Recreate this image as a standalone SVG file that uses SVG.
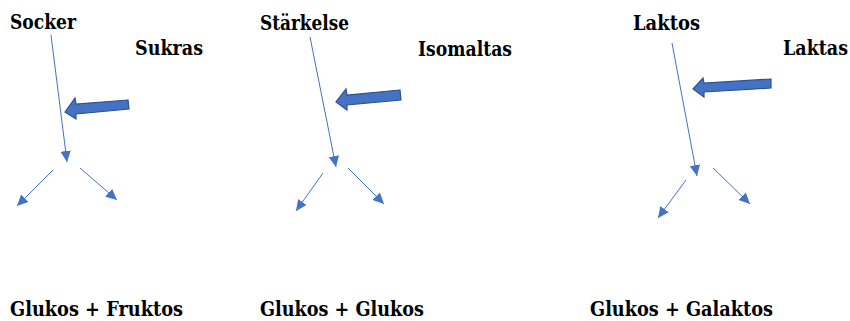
<svg xmlns="http://www.w3.org/2000/svg" width="850" height="321" viewBox="0 0 850 321">
<style>
.t{font-family:'DejaVu Serif Condensed','DejaVu Serif','Liberation Serif',serif;font-stretch:condensed;font-weight:700;font-size:20px;fill:#000}
.ln{stroke:#4472C4;stroke-width:1;fill:none;marker-end:url(#ah)}
.blk{fill:#4472C4;stroke:#2F528F;stroke-width:1.2;stroke-linejoin:miter}
</style>
<defs>
<marker id="ah" markerUnits="userSpaceOnUse" markerWidth="12" markerHeight="12" viewBox="0 0 12 12" refX="11" refY="6" orient="auto">
<path d="M0,0.8 L11,6 L0,11.2 Z" fill="#4472C4"/>
</marker>
</defs>
<rect width="850" height="321" fill="#fff"/>
<g id="panel-sukras">
<text class="t" x="10" y="29" textLength="66" lengthAdjust="spacingAndGlyphs">Socker</text>
<text class="t" x="135" y="55" textLength="68" lengthAdjust="spacingAndGlyphs">Sukras</text>
<text class="t" x="10" y="316" textLength="173" lengthAdjust="spacingAndGlyphs">Glukos + Fruktos</text>
</g>
<g id="panel-isomaltas">
<text class="t" x="260" y="30" textLength="89" lengthAdjust="spacingAndGlyphs">Stärkelse</text>
<text class="t" x="418" y="56" textLength="94" lengthAdjust="spacingAndGlyphs">Isomaltas</text>
<text class="t" x="260" y="316" textLength="164" lengthAdjust="spacingAndGlyphs">Glukos + Glukos</text>
</g>
<g id="panel-laktas">
<text class="t" x="633" y="30" textLength="67" lengthAdjust="spacingAndGlyphs">Laktos</text>
<text class="t" x="783" y="55" textLength="65" lengthAdjust="spacingAndGlyphs">Laktas</text>
<text class="t" x="590" y="316" textLength="183" lengthAdjust="spacingAndGlyphs">Glukos + Galaktos</text>
</g>
<g id="connectors">
<line class="ln" x1="51" y1="35" x2="67" y2="162"/>
<line class="ln" x1="53" y1="170" x2="17" y2="206"/>
<line class="ln" x1="80" y1="168" x2="117" y2="200"/>
<path class="blk" d="M128,100 L76,104 L75,98 L65,112 L76,119 L76,114 L129,109 Z"/>
<line class="ln" x1="310" y1="37" x2="336" y2="167"/>
<line class="ln" x1="323" y1="173" x2="296" y2="211"/>
<line class="ln" x1="348" y1="168" x2="384" y2="204"/>
<path class="blk" d="M400,90 L347,95 L346,89 L336,102 L347,110 L347,105 L401,100 Z"/>
<line class="ln" x1="672" y1="43" x2="697" y2="176"/>
<line class="ln" x1="686" y1="180" x2="658" y2="218"/>
<line class="ln" x1="713" y1="168" x2="750" y2="204"/>
<path class="blk" d="M771,79 L704,83 L703,78 L693,89 L704,97 L704,92 L771,88 Z"/>
</g>
</svg>
